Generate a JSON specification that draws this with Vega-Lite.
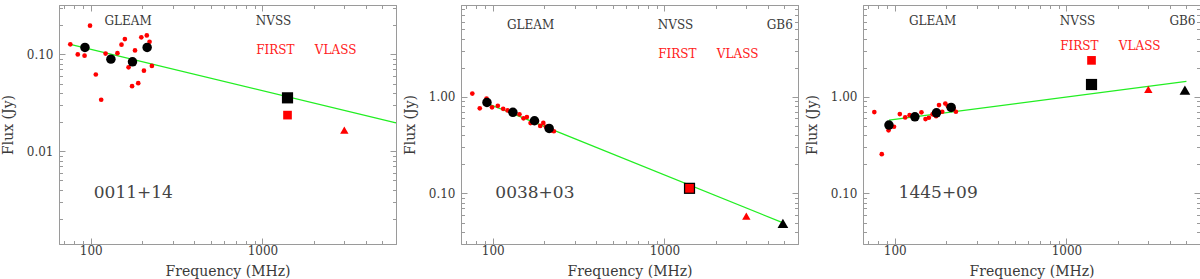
{
  "$schema": "https://vega.github.io/schema/vega-lite/v6.json",
  "background": "white",
  "padding": {"left": 0, "top": 1, "right": 0, "bottom": 0},
  "bounds": "flush",
  "spacing": 65,
  "config": {
    "view": {"stroke": "#9a9a9a", "strokeWidth": 1},
    "axis": {"domainColor": "#9a9a9a", "tickColor": "#9a9a9a", "labelColor": "#3a3a3a", "titleColor": "#3a3a3a", "labelFont": "DejaVu Serif", "titleFont": "DejaVu Serif", "labelFontSize": 12, "titleFontSize": 14, "titleFontWeight": "normal", "grid": false},
    "text": {"font": "DejaVu Serif"}
  },
  "datasets": {
    "pts": [
      {"panel": "A", "s": "sub", "f": 76, "v": 0.127}, {"panel": "A", "s": "sub", "f": 84, "v": 0.100}, {"panel": "A", "s": "sub", "f": 92, "v": 0.097}, {"panel": "A", "s": "sub", "f": 99, "v": 0.198}, {"panel": "A", "s": "sub", "f": 107, "v": 0.062}, {"panel": "A", "s": "sub", "f": 115, "v": 0.034}, {"panel": "A", "s": "sub", "f": 122, "v": 0.102}, {"panel": "A", "s": "sub", "f": 130, "v": 0.090}, {"panel": "A", "s": "sub", "f": 143, "v": 0.103}, {"panel": "A", "s": "sub", "f": 151, "v": 0.126}, {"panel": "A", "s": "sub", "f": 158, "v": 0.144}, {"panel": "A", "s": "sub", "f": 166, "v": 0.0735}, {"panel": "A", "s": "sub", "f": 174, "v": 0.047}, {"panel": "A", "s": "sub", "f": 181, "v": 0.110}, {"panel": "A", "s": "sub", "f": 189, "v": 0.0505}, {"panel": "A", "s": "sub", "f": 197, "v": 0.150}, {"panel": "A", "s": "sub", "f": 204, "v": 0.068}, {"panel": "A", "s": "sub", "f": 212, "v": 0.157}, {"panel": "A", "s": "sub", "f": 220, "v": 0.135}, {"panel": "A", "s": "sub", "f": 227, "v": 0.076},
      {"panel": "A", "s": "wide", "f": 92.5, "v": 0.118}, {"panel": "A", "s": "wide", "f": 131, "v": 0.0894}, {"panel": "A", "s": "wide", "f": 175, "v": 0.0839}, {"panel": "A", "s": "wide", "f": 213, "v": 0.118},
      {"panel": "A", "s": "NVSS", "f": 1400, "v": 0.0356}, {"panel": "A", "s": "FIRST", "f": 1400, "v": 0.0236}, {"panel": "A", "s": "VLASS", "f": 3000, "v": 0.0165},
      {"panel": "B", "s": "sub", "f": 76, "v": 1.08}, {"panel": "B", "s": "sub", "f": 84, "v": 0.76}, {"panel": "B", "s": "sub", "f": 92, "v": 0.96}, {"panel": "B", "s": "sub", "f": 99, "v": 0.777}, {"panel": "B", "s": "sub", "f": 107, "v": 0.807}, {"panel": "B", "s": "sub", "f": 115, "v": 0.751}, {"panel": "B", "s": "sub", "f": 122, "v": 0.723}, {"panel": "B", "s": "sub", "f": 130, "v": 0.70}, {"panel": "B", "s": "sub", "f": 143, "v": 0.658}, {"panel": "B", "s": "sub", "f": 151, "v": 0.598}, {"panel": "B", "s": "sub", "f": 158, "v": 0.617}, {"panel": "B", "s": "sub", "f": 166, "v": 0.535}, {"panel": "B", "s": "sub", "f": 174, "v": 0.584}, {"panel": "B", "s": "sub", "f": 181, "v": 0.56}, {"panel": "B", "s": "sub", "f": 189, "v": 0.50}, {"panel": "B", "s": "sub", "f": 197, "v": 0.537}, {"panel": "B", "s": "sub", "f": 204, "v": 0.49}, {"panel": "B", "s": "sub", "f": 212, "v": 0.48}, {"panel": "B", "s": "sub", "f": 220, "v": 0.449}, {"panel": "B", "s": "sub", "f": 227, "v": 0.44},
      {"panel": "B", "s": "wide", "f": 92.5, "v": 0.875}, {"panel": "B", "s": "wide", "f": 131, "v": 0.69}, {"panel": "B", "s": "wide", "f": 175, "v": 0.565}, {"panel": "B", "s": "wide", "f": 213, "v": 0.471},
      {"panel": "B", "s": "NVSS", "f": 1400, "v": 0.113}, {"panel": "B", "s": "FIRST", "f": 1400, "v": 0.113}, {"panel": "B", "s": "VLASS", "f": 3000, "v": 0.0584}, {"panel": "B", "s": "GB6", "f": 4900, "v": 0.049},
      {"panel": "C", "s": "sub", "f": 76, "v": 0.695}, {"panel": "C", "s": "sub", "f": 84, "v": 0.255}, {"panel": "C", "s": "sub", "f": 92, "v": 0.45}, {"panel": "C", "s": "sub", "f": 99, "v": 0.49}, {"panel": "C", "s": "sub", "f": 107, "v": 0.662}, {"panel": "C", "s": "sub", "f": 115, "v": 0.612}, {"panel": "C", "s": "sub", "f": 122, "v": 0.646}, {"panel": "C", "s": "sub", "f": 130, "v": 0.63}, {"panel": "C", "s": "sub", "f": 143, "v": 0.69}, {"panel": "C", "s": "sub", "f": 151, "v": 0.588}, {"panel": "C", "s": "sub", "f": 158, "v": 0.607}, {"panel": "C", "s": "sub", "f": 166, "v": 0.658}, {"panel": "C", "s": "sub", "f": 174, "v": 0.63}, {"panel": "C", "s": "sub", "f": 181, "v": 0.82}, {"panel": "C", "s": "sub", "f": 189, "v": 0.70}, {"panel": "C", "s": "sub", "f": 197, "v": 0.85}, {"panel": "C", "s": "sub", "f": 204, "v": 0.80}, {"panel": "C", "s": "sub", "f": 212, "v": 0.78}, {"panel": "C", "s": "sub", "f": 220, "v": 0.75}, {"panel": "C", "s": "sub", "f": 227, "v": 0.70},
      {"panel": "C", "s": "wide", "f": 92.5, "v": 0.51}, {"panel": "C", "s": "wide", "f": 131, "v": 0.62}, {"panel": "C", "s": "wide", "f": 175, "v": 0.683}, {"panel": "C", "s": "wide", "f": 213, "v": 0.776},
      {"panel": "C", "s": "NVSS", "f": 1400, "v": 1.34}, {"panel": "C", "s": "FIRST", "f": 1400, "v": 2.38}, {"panel": "C", "s": "VLASS", "f": 3000, "v": 1.19}, {"panel": "C", "s": "GB6", "f": 4900, "v": 1.17}
    ],
    "fit": [
      {"panel": "A", "f": 76, "v": 0.127}, {"panel": "A", "f": 6000, "v": 0.0196},
      {"panel": "B", "f": 92.6, "v": 0.855}, {"panel": "B", "f": 5000, "v": 0.049},
      {"panel": "C", "f": 92.6, "v": 0.574}, {"panel": "C", "f": 5000, "v": 1.44}
    ],
    "lbl": [
      {"panel": "A", "k": "dark", "t": "GLEAM", "f": 165, "v": 0.22}, {"panel": "A", "k": "dark", "t": "NVSS", "f": 1160, "v": 0.22}, {"panel": "A", "k": "red", "t": "FIRST", "f": 1190, "v": 0.11}, {"panel": "A", "k": "red", "t": "VLASS", "f": 2670, "v": 0.11}, {"panel": "A", "k": "name", "t": "0011+14", "f": 177, "v": 0.00366},
      {"panel": "B", "k": "dark", "t": "GLEAM", "f": 166, "v": 5.5}, {"panel": "B", "k": "dark", "t": "NVSS", "f": 1160, "v": 5.5}, {"panel": "B", "k": "dark", "t": "GB6", "f": 4700, "v": 5.5}, {"panel": "B", "k": "red", "t": "FIRST", "f": 1190, "v": 2.74}, {"panel": "B", "k": "red", "t": "VLASS", "f": 2670, "v": 2.74}, {"panel": "B", "k": "name", "t": "0038+03", "f": 176, "v": 0.1},
      {"panel": "C", "k": "dark", "t": "GLEAM", "f": 166, "v": 6.07}, {"panel": "C", "k": "dark", "t": "NVSS", "f": 1160, "v": 6.07}, {"panel": "C", "k": "dark", "t": "GB6", "f": 4740, "v": 6.07}, {"panel": "C", "k": "red", "t": "FIRST", "f": 1190, "v": 3.32}, {"panel": "C", "k": "red", "t": "VLASS", "f": 2670, "v": 3.32}, {"panel": "C", "k": "name", "t": "1445+09", "f": 179, "v": 0.1}
    ]
  },
  "hconcat": [
    {
      "width": 337, "height": 239,
      "resolve": {"axis": {"x": "independent", "y": "independent"}},
      "layer": [
        {"data": {"name": "fit"}, "transform": [{"filter": "datum.panel === 'A'"}],
         "mark": {"type": "line", "color": "#22ee22", "strokeWidth": 1.3},
         "encoding": {
           "x": {"field": "f", "type": "quantitative", "scale": {"type": "log", "domain": [65.3, 6000], "nice": false},
                 "axis": {"orient": "top", "values": [70,80,90,100,200,300,400,500,600,700,800,900,1000,2000,3000,4000,5000,6000], "labels": false, "title": null,
                          "tickSize": {"condition": {"test": "datum.value == 100 || datum.value == 1000", "value": -6}, "value": -3.5}}},
           "y": {"field": "v", "type": "quantitative", "scale": {"type": "log", "domain": [0.0011, 0.324], "nice": false},
                 "axis": {"orient": "right", "values": [0.002,0.003,0.004,0.005,0.006,0.007,0.008,0.009,0.01,0.02,0.03,0.04,0.05,0.06,0.07,0.08,0.09,0.1,0.2,0.3], "labels": false, "title": null,
                          "tickSize": {"condition": {"test": "datum.value == 0.01 || datum.value == 0.1", "value": -6}, "value": -3.5}}}
         }},
        {"data": {"name": "pts"}, "transform": [{"filter": "datum.panel === 'A'"}],
         "mark": {"type": "point", "filled": true, "opacity": 1, "strokeWidth": 0},
         "encoding": {
           "x": {"field": "f", "type": "quantitative", "scale": {"type": "log", "domain": [65.3, 6000], "nice": false},
                 "axis": {"orient": "bottom", "values": [70,80,90,100,200,300,400,500,600,700,800,900,1000,2000,3000,4000,5000,6000], "format": "d",
                          "labelExpr": "datum.value == 100 || datum.value == 1000 ? datum.label : ''", "labelOverlap": false, "labelPadding": 7,
                          "tickSize": {"condition": {"test": "datum.value == 100 || datum.value == 1000", "value": -6}, "value": -3.5},
                          "title": "Frequency (MHz)", "titlePadding": 6}},
           "y": {"field": "v", "type": "quantitative", "scale": {"type": "log", "domain": [0.0011, 0.324], "nice": false},
                 "axis": {"orient": "left", "values": [0.002,0.003,0.004,0.005,0.006,0.007,0.008,0.009,0.01,0.02,0.03,0.04,0.05,0.06,0.07,0.08,0.09,0.1,0.2,0.3], "format": ".2f",
                          "labelExpr": "datum.value == 0.01 || datum.value == 0.1 ? datum.label : ''", "labelOverlap": false, "labelPadding": 12,
                          "tickSize": {"condition": {"test": "datum.value == 0.01 || datum.value == 0.1", "value": -6}, "value": -3.5},
                          "title": "Flux (Jy)", "titlePadding": 11}},
           "shape": {"field": "s", "type": "nominal", "scale": {"domain": ["sub", "wide", "NVSS", "FIRST", "VLASS", "GB6"], "range": ["circle", "circle", "square", "square", "triangle-up", "triangle-up"]}, "legend": null},
           "color": {"field": "s", "type": "nominal", "scale": {"domain": ["sub", "wide", "NVSS", "FIRST", "VLASS", "GB6"], "range": ["#ff0000", "#000000", "#000000", "#ff0000", "#ff0000", "#000000"]}, "legend": null},
           "size": {"field": "s", "type": "ordinal", "scale": {"type": "ordinal", "domain": ["sub", "wide", "NVSS", "FIRST", "VLASS", "GB6"], "range": [22, 90, 125, 75, 70, 115]}, "legend": null}
         }},
        {"data": {"name": "lbl"}, "transform": [{"filter": "datum.panel === 'A' && datum.k === 'dark'"}],
         "mark": {"type": "text", "font": "DejaVu Serif", "fontSize": 12, "color": "#3a3a3a", "align": "center", "baseline": "middle"},
         "encoding": {"x": {"field": "f", "type": "quantitative", "axis": null}, "y": {"field": "v", "type": "quantitative", "axis": null}, "text": {"field": "t"}}},
        {"data": {"name": "lbl"}, "transform": [{"filter": "datum.panel === 'A' && datum.k === 'red'"}],
         "mark": {"type": "text", "font": "DejaVu Serif", "fontSize": 12, "color": "#ff2020", "align": "center", "baseline": "middle"},
         "encoding": {"x": {"field": "f", "type": "quantitative", "axis": null}, "y": {"field": "v", "type": "quantitative", "axis": null}, "text": {"field": "t"}}},
        {"data": {"name": "lbl"}, "transform": [{"filter": "datum.panel === 'A' && datum.k === 'name'"}],
         "mark": {"type": "text", "font": "DejaVu Serif", "fontSize": 17, "color": "#444444", "align": "center", "baseline": "middle"},
         "encoding": {"x": {"field": "f", "type": "quantitative", "axis": null}, "y": {"field": "v", "type": "quantitative", "axis": null}, "text": {"field": "t"}}}
      ]
    },
    {
      "width": 337, "height": 239,
      "resolve": {"axis": {"x": "independent", "y": "independent"}},
      "layer": [
        {"data": {"name": "fit"}, "transform": [{"filter": "datum.panel === 'B'"}],
         "mark": {"type": "line", "color": "#22ee22", "strokeWidth": 1.3},
         "encoding": {
           "x": {"field": "f", "type": "quantitative", "scale": {"type": "log", "domain": [65.3, 6000], "nice": false},
                 "axis": {"orient": "top", "values": [70,80,90,100,200,300,400,500,600,700,800,900,1000,2000,3000,4000,5000,6000], "labels": false, "title": null,
                          "tickSize": {"condition": {"test": "datum.value == 100 || datum.value == 1000", "value": -6}, "value": -3.5}}},
           "y": {"field": "v", "type": "quantitative", "scale": {"type": "log", "domain": [0.03, 8.9], "nice": false},
                 "axis": {"orient": "right", "values": [0.04,0.05,0.06,0.07,0.08,0.09,0.1,0.2,0.3,0.4,0.5,0.6,0.7,0.8,0.9,1,2,3,4,5,6,7,8], "labels": false, "title": null,
                          "tickSize": {"condition": {"test": "datum.value == 0.1 || datum.value == 1", "value": -6}, "value": -3.5}}}
         }},
        {"data": {"name": "pts"}, "transform": [{"filter": "datum.panel === 'B'"}],
         "mark": {"type": "point", "filled": true, "opacity": 1, "strokeWidth": 0},
         "encoding": {
           "x": {"field": "f", "type": "quantitative", "scale": {"type": "log", "domain": [65.3, 6000], "nice": false},
                 "axis": {"orient": "bottom", "values": [70,80,90,100,200,300,400,500,600,700,800,900,1000,2000,3000,4000,5000,6000], "format": "d",
                          "labelExpr": "datum.value == 100 || datum.value == 1000 ? datum.label : ''", "labelOverlap": false, "labelPadding": 7,
                          "tickSize": {"condition": {"test": "datum.value == 100 || datum.value == 1000", "value": -6}, "value": -3.5},
                          "title": "Frequency (MHz)", "titlePadding": 6}},
           "y": {"field": "v", "type": "quantitative", "scale": {"type": "log", "domain": [0.03, 8.9], "nice": false},
                 "axis": {"orient": "left", "values": [0.04,0.05,0.06,0.07,0.08,0.09,0.1,0.2,0.3,0.4,0.5,0.6,0.7,0.8,0.9,1,2,3,4,5,6,7,8], "format": ".2f",
                          "labelExpr": "datum.value == 0.1 || datum.value == 1 ? datum.label : ''", "labelOverlap": false, "labelPadding": 12,
                          "tickSize": {"condition": {"test": "datum.value == 0.1 || datum.value == 1", "value": -6}, "value": -3.5},
                          "title": "Flux (Jy)", "titlePadding": 11}},
           "shape": {"field": "s", "type": "nominal", "scale": {"domain": ["sub", "wide", "NVSS", "FIRST", "VLASS", "GB6"], "range": ["circle", "circle", "square", "square", "triangle-up", "triangle-up"]}, "legend": null},
           "color": {"field": "s", "type": "nominal", "scale": {"domain": ["sub", "wide", "NVSS", "FIRST", "VLASS", "GB6"], "range": ["#ff0000", "#000000", "#000000", "#ff0000", "#ff0000", "#000000"]}, "legend": null},
           "size": {"field": "s", "type": "ordinal", "scale": {"type": "ordinal", "domain": ["sub", "wide", "NVSS", "FIRST", "VLASS", "GB6"], "range": [22, 90, 125, 75, 70, 115]}, "legend": null}
         }},
        {"data": {"name": "lbl"}, "transform": [{"filter": "datum.panel === 'B' && datum.k === 'dark'"}],
         "mark": {"type": "text", "font": "DejaVu Serif", "fontSize": 12, "color": "#3a3a3a", "align": "center", "baseline": "middle"},
         "encoding": {"x": {"field": "f", "type": "quantitative", "axis": null}, "y": {"field": "v", "type": "quantitative", "axis": null}, "text": {"field": "t"}}},
        {"data": {"name": "lbl"}, "transform": [{"filter": "datum.panel === 'B' && datum.k === 'red'"}],
         "mark": {"type": "text", "font": "DejaVu Serif", "fontSize": 12, "color": "#ff2020", "align": "center", "baseline": "middle"},
         "encoding": {"x": {"field": "f", "type": "quantitative", "axis": null}, "y": {"field": "v", "type": "quantitative", "axis": null}, "text": {"field": "t"}}},
        {"data": {"name": "lbl"}, "transform": [{"filter": "datum.panel === 'B' && datum.k === 'name'"}],
         "mark": {"type": "text", "font": "DejaVu Serif", "fontSize": 17, "color": "#444444", "align": "center", "baseline": "middle"},
         "encoding": {"x": {"field": "f", "type": "quantitative", "axis": null}, "y": {"field": "v", "type": "quantitative", "axis": null}, "text": {"field": "t"}}}
      ]
    },
    {
      "width": 337, "height": 239,
      "resolve": {"axis": {"x": "independent", "y": "independent"}},
      "layer": [
        {"data": {"name": "fit"}, "transform": [{"filter": "datum.panel === 'C'"}],
         "mark": {"type": "line", "color": "#22ee22", "strokeWidth": 1.3},
         "encoding": {
           "x": {"field": "f", "type": "quantitative", "scale": {"type": "log", "domain": [65.3, 6000], "nice": false},
                 "axis": {"orient": "top", "values": [70,80,90,100,200,300,400,500,600,700,800,900,1000,2000,3000,4000,5000,6000], "labels": false, "title": null,
                          "tickSize": {"condition": {"test": "datum.value == 100 || datum.value == 1000", "value": -6}, "value": -3.5}}},
           "y": {"field": "v", "type": "quantitative", "scale": {"type": "log", "domain": [0.03, 8.9], "nice": false},
                 "axis": {"orient": "right", "values": [0.04,0.05,0.06,0.07,0.08,0.09,0.1,0.2,0.3,0.4,0.5,0.6,0.7,0.8,0.9,1,2,3,4,5,6,7,8], "labels": false, "title": null,
                          "tickSize": {"condition": {"test": "datum.value == 0.1 || datum.value == 1", "value": -6}, "value": -3.5}}}
         }},
        {"data": {"name": "pts"}, "transform": [{"filter": "datum.panel === 'C'"}],
         "mark": {"type": "point", "filled": true, "opacity": 1, "strokeWidth": 0},
         "encoding": {
           "x": {"field": "f", "type": "quantitative", "scale": {"type": "log", "domain": [65.3, 6000], "nice": false},
                 "axis": {"orient": "bottom", "values": [70,80,90,100,200,300,400,500,600,700,800,900,1000,2000,3000,4000,5000,6000], "format": "d",
                          "labelExpr": "datum.value == 100 || datum.value == 1000 ? datum.label : ''", "labelOverlap": false, "labelPadding": 7,
                          "tickSize": {"condition": {"test": "datum.value == 100 || datum.value == 1000", "value": -6}, "value": -3.5},
                          "title": "Frequency (MHz)", "titlePadding": 6}},
           "y": {"field": "v", "type": "quantitative", "scale": {"type": "log", "domain": [0.03, 8.9], "nice": false},
                 "axis": {"orient": "left", "values": [0.04,0.05,0.06,0.07,0.08,0.09,0.1,0.2,0.3,0.4,0.5,0.6,0.7,0.8,0.9,1,2,3,4,5,6,7,8], "format": ".2f",
                          "labelExpr": "datum.value == 0.1 || datum.value == 1 ? datum.label : ''", "labelOverlap": false, "labelPadding": 12,
                          "tickSize": {"condition": {"test": "datum.value == 0.1 || datum.value == 1", "value": -6}, "value": -3.5},
                          "title": "Flux (Jy)", "titlePadding": 11}},
           "shape": {"field": "s", "type": "nominal", "scale": {"domain": ["sub", "wide", "NVSS", "FIRST", "VLASS", "GB6"], "range": ["circle", "circle", "square", "square", "triangle-up", "triangle-up"]}, "legend": null},
           "color": {"field": "s", "type": "nominal", "scale": {"domain": ["sub", "wide", "NVSS", "FIRST", "VLASS", "GB6"], "range": ["#ff0000", "#000000", "#000000", "#ff0000", "#ff0000", "#000000"]}, "legend": null},
           "size": {"field": "s", "type": "ordinal", "scale": {"type": "ordinal", "domain": ["sub", "wide", "NVSS", "FIRST", "VLASS", "GB6"], "range": [22, 90, 125, 75, 70, 115]}, "legend": null}
         }},
        {"data": {"name": "lbl"}, "transform": [{"filter": "datum.panel === 'C' && datum.k === 'dark'"}],
         "mark": {"type": "text", "font": "DejaVu Serif", "fontSize": 12, "color": "#3a3a3a", "align": "center", "baseline": "middle"},
         "encoding": {"x": {"field": "f", "type": "quantitative", "axis": null}, "y": {"field": "v", "type": "quantitative", "axis": null}, "text": {"field": "t"}}},
        {"data": {"name": "lbl"}, "transform": [{"filter": "datum.panel === 'C' && datum.k === 'red'"}],
         "mark": {"type": "text", "font": "DejaVu Serif", "fontSize": 12, "color": "#ff2020", "align": "center", "baseline": "middle"},
         "encoding": {"x": {"field": "f", "type": "quantitative", "axis": null}, "y": {"field": "v", "type": "quantitative", "axis": null}, "text": {"field": "t"}}},
        {"data": {"name": "lbl"}, "transform": [{"filter": "datum.panel === 'C' && datum.k === 'name'"}],
         "mark": {"type": "text", "font": "DejaVu Serif", "fontSize": 17, "color": "#444444", "align": "center", "baseline": "middle"},
         "encoding": {"x": {"field": "f", "type": "quantitative", "axis": null}, "y": {"field": "v", "type": "quantitative", "axis": null}, "text": {"field": "t"}}}
      ]
    }
  ]
}
